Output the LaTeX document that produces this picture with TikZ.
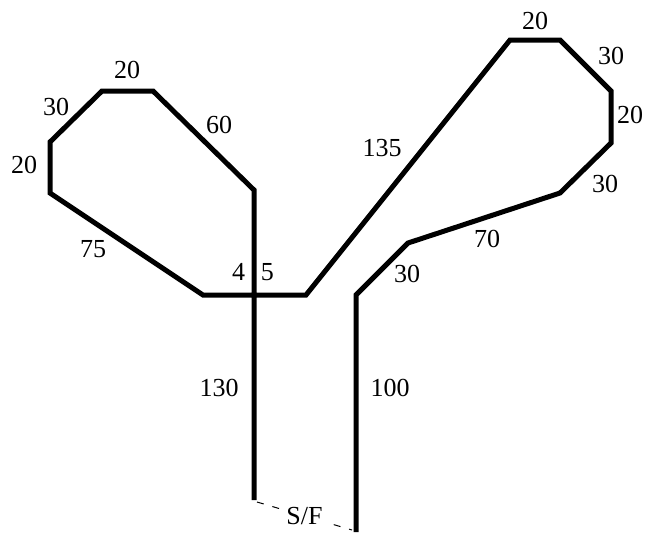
\documentclass[tikz,border=0pt]{standalone}
\usepackage{fontspec}
\setmainfont{Liberation Serif}
\usepackage{tikz}
\usetikzlibrary{calc}

\begin{document}
\begin{tikzpicture}[
    x=0.5pt, y=-0.5pt,
    track/.style={line width=2.5pt, line join=miter},
    len/.style={font=\fontsize{13}{15}\selectfont, inner sep=0pt},
    sfline/.style={line width=0.5pt, dash pattern=on 3.5pt off 4.5pt},
]
\useasboundingbox (0,0) rectangle (649,532);

% corners of the course
\coordinate (start) at (254,500);
\coordinate (a) at (254,190);
\coordinate (b) at (153,91);
\coordinate (c) at (102,91);
\coordinate (d) at (50,142);
\coordinate (e) at (50,193);
\coordinate (f) at (203,295);
\coordinate (g) at (306,295);
\coordinate (h) at (510,40);
\coordinate (i) at (560,40);
\coordinate (j) at (611,91);
\coordinate (k) at (611,143);
\coordinate (l) at (560,193);
\coordinate (m) at (408,243);
\coordinate (n) at (356,295);
\coordinate (finish) at (356,532);

% segment lengths
\node[len] (l1) at (219,388) {130};
\node[len] (l2) at (219,125) {60};
\node[len] (l3) at (127,70) {20};
\node[len] (l4) at (56,107) {30};
\node[len] (l5) at (24,165) {20};
\node[len] (l6) at (93,249) {75};
\node[len] (l7) at (253,272) {4\hspace{0.6em}5};
\node[len] (l8) at (382,148) {135};
\node[len] (l9) at (535,21) {20};
\node[len] (l10) at (611,56) {30};
\node[len] (l11) at (630,115) {20};
\node[len] (l12) at (605,184) {30};
\node[len] (l13) at (487,239) {70};
\node[len] (l14) at (407,274) {30};
\node[len] (l15) at (390,388) {100};

\draw[track] (start) -- (a) -- (b) -- (c) -- (d) -- (e) -- (f) -- (g)
    -- (h) -- (i) -- (j) -- (k) -- (l) -- (m) -- (n) -- (finish);

% start / finish
\draw[sfline] ($(start)+(3,2)$) -- node[len, fill=white, inner sep=2pt] (sf) {S/F} ($(finish)+(-4,-2)$);

\end{tikzpicture}
\end{document}
